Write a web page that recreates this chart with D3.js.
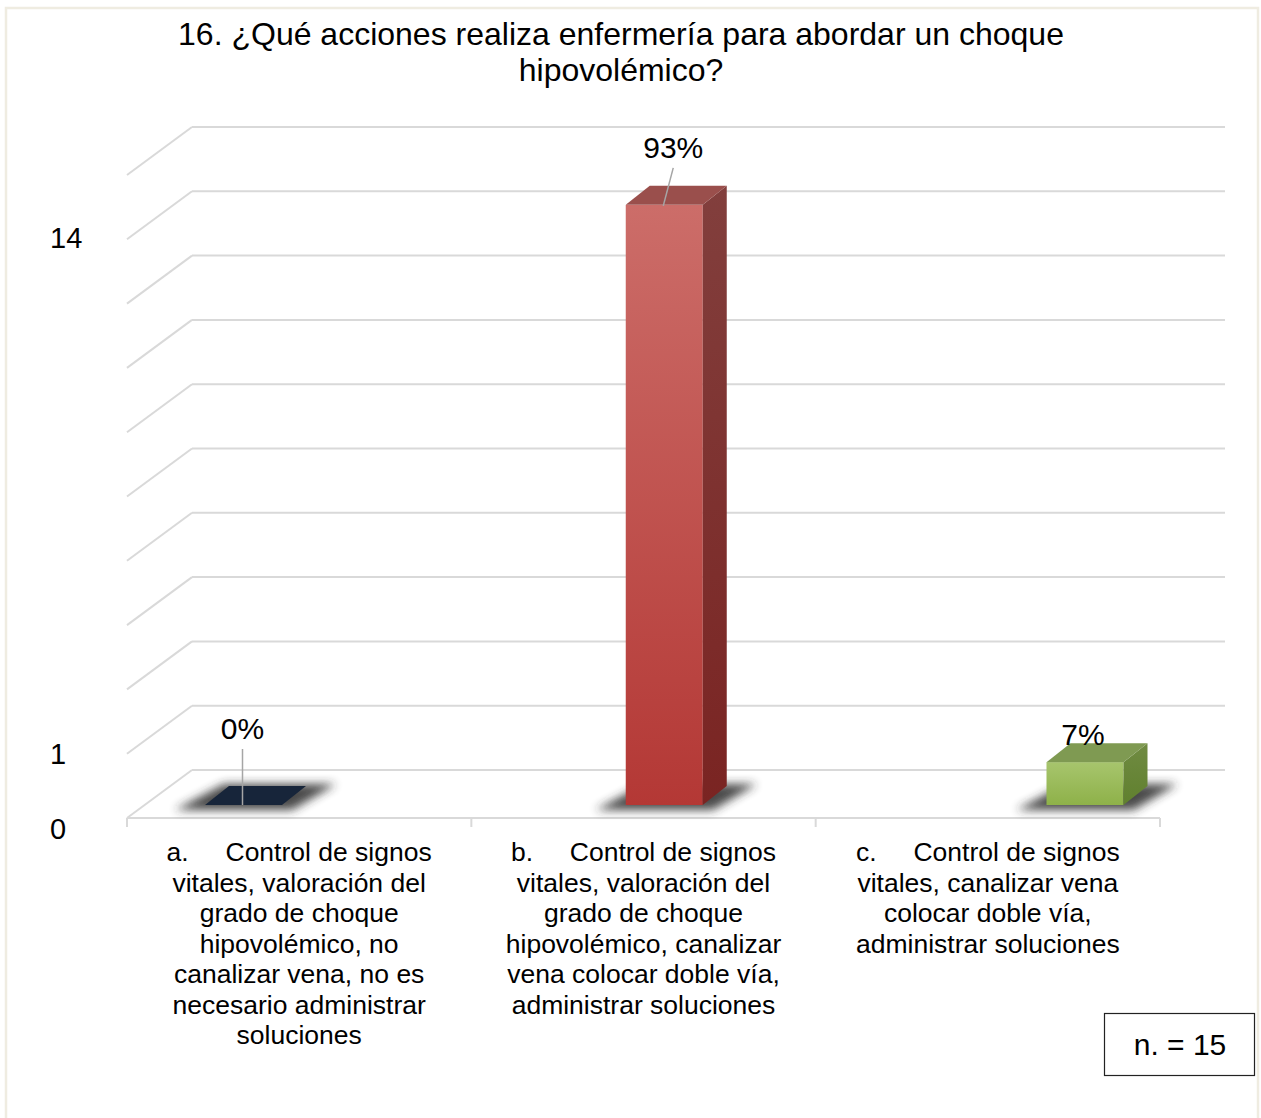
<!DOCTYPE html>
<html>
<head>
<meta charset="utf-8">
<script src="https://cdn.jsdelivr.net/npm/d3@7"></script>
<style>
  html, body { margin: 0; padding: 0; background: #ffffff; }
  svg { display: block; font-family: "Liberation Sans", Arial, sans-serif; }
</style>
</head>
<body>
<svg id="chart" width="1261" height="1118"></svg>
<script>
// ---- data ----
const categories = ["a", "b", "c"];
const categoryLabels = [
  ["a.\u00A0\u00A0\u00A0\u00A0\u00A0Control de signos", "vitales, valoración del", "grado de choque", "hipovolémico, no", "canalizar vena, no es", "necesario administrar", "soluciones"],
  ["b.\u00A0\u00A0\u00A0\u00A0\u00A0Control de signos", "vitales, valoración del", "grado de choque", "hipovolémico, canalizar", "vena colocar doble vía,", "administrar soluciones"],
  ["c.\u00A0\u00A0\u00A0\u00A0\u00A0Control de signos", "vitales, canalizar vena", "colocar doble vía,", "administrar soluciones"]
];
const counts = [0, 14, 1];
const percentLabels = ["0%", "93%", "7%"];
const tickValues = [0, 1, 14];
const tickLabels = ["0", "1", "14"];
const titleLines = ["16. ¿Qué acciones realiza enfermería para abordar un choque", "hipovolémico?"];
const sampleNote = "n. = 15";
const yMax = 15;
const gridStep = 1.5;

// ---- styles ----
const palettes = [
  { front: ["#1f3048", "#17253a"], side: ["#121d2e", "#0e1725"], top: "#17253a" },
  { front: ["#cc6d69", "#b43835"], side: ["#823f3d", "#7a2422"], top: "#9a4f4c" },
  { front: ["#a7c56d", "#8eb149"], side: ["#708b42", "#60802e"], top: "#7f9a52" }
];

const svg = d3.select("#chart");
const defs = svg.append("defs");

// outer frame
svg.append("rect").attr("x", 6).attr("y", 8).attr("width", 1252).attr("height", 1120)
  .attr("fill", "#ffffff").attr("stroke", "#efece1").attr("stroke-width", 2.5);

// projection geometry
const floorLeft = 127, floorRight = 1160;
const depthDx = 65, depthDy = -48;
const y = d3.scaleLinear().domain([0, yMax]).range([818, 175]);
const xBand = d3.scaleBand().domain(categories).range([floorLeft, floorRight]);
const xBar = d3.scalePoint().domain(categories).range([243.5, 1085]);
const barW = 77, barDepthX = 24, barDepthY = -19, barFrontShift = -13;
const yBar = v => y(v) + barFrontShift;
const tickY = d3.scaleLinear().domain(tickValues).range([829, 754, 238]);

// grid
const gridVals = d3.range(0, yMax + 0.001, gridStep);
const grid = svg.append("g").attr("stroke", "#d9d9d9").attr("stroke-width", 2).attr("fill", "none");
gridVals.forEach(v => {
  grid.append("line").attr("x1", floorLeft + depthDx).attr("x2", floorRight + depthDx)
    .attr("y1", y(v) + depthDy).attr("y2", y(v) + depthDy);
  grid.append("line").attr("x1", floorLeft).attr("x2", floorLeft + depthDx)
    .attr("y1", y(v)).attr("y2", y(v) + depthDy);
});
// floor front edge & ticks
grid.append("line").attr("x1", floorLeft).attr("x2", floorRight).attr("y1", y(0)).attr("y2", y(0));
const tickXs = categories.map(c => xBand(c)).concat([floorRight]);
tickXs.forEach(tx => {
  grid.append("line").attr("x1", tx).attr("x2", tx).attr("y1", y(0)).attr("y2", y(0) + 9);
});

// shadow filter
const f = defs.append("filter").attr("id", "shadowBlur").attr("x", "-50%").attr("y", "-100%")
  .attr("width", "200%").attr("height", "300%");
f.append("feGaussianBlur").attr("stdDeviation", 5);

// gradients
palettes.forEach((p, i) => {
  const gf = defs.append("linearGradient").attr("id", "front" + i).attr("x1", 0).attr("y1", 0).attr("x2", 0).attr("y2", 1);
  gf.append("stop").attr("offset", "0%").attr("stop-color", p.front[0]);
  gf.append("stop").attr("offset", "100%").attr("stop-color", p.front[1]);
  const gs = defs.append("linearGradient").attr("id", "side" + i).attr("x1", 0).attr("y1", 0).attr("x2", 0).attr("y2", 1);
  gs.append("stop").attr("offset", "0%").attr("stop-color", p.side[0]);
  gs.append("stop").attr("offset", "100%").attr("stop-color", p.side[1]);
});

const bars = svg.append("g");
categories.forEach((c, i) => {
  const v = counts[i];
  const cx = xBar(c);
  const x0 = cx - barW / 2, x1 = cx + barW / 2;
  const yb = yBar(0), yt = yBar(v);
  const g = bars.append("g");
  // shadow on floor
  const sp = [[x0 - 30, yb + 5], [x1 + 10, yb + 5], [x1 + barDepthX + 30, yb + barDepthY - 2], [x0 + barDepthX - 5, yb + barDepthY - 2]];
  g.append("path").attr("d", "M" + sp.map(p => p.join(",")).join("L") + "Z")
    .attr("fill", "#2a2a2a").attr("opacity", 0.85).attr("filter", "url(#shadowBlur)");
  if (v > 0) {
    g.append("rect").attr("x", x0).attr("y", yt).attr("width", barW).attr("height", yb - yt)
      .attr("fill", `url(#front${i})`);
    const side = [[x1, yt], [x1 + barDepthX, yt + barDepthY], [x1 + barDepthX, yb + barDepthY], [x1, yb]];
    g.append("path").attr("d", "M" + side.map(p => p.join(",")).join("L") + "Z").attr("fill", `url(#side${i})`);
  }
  const top = [[x0, yt], [x1, yt], [x1 + barDepthX, yt + barDepthY], [x0 + barDepthX, yt + barDepthY]];
  g.append("path").attr("d", "M" + top.map(p => p.join(",")).join("L") + "Z").attr("fill", palettes[i].top);
});

// data labels
const labelFont = 30;
categories.forEach((c, i) => {
  const v = counts[i];
  const cx = xBar(c);
  const yt = yBar(v);
  let lx, ly;
  if (i === 0) {
    lx = cx - 1; ly = yt - 66;
    svg.append("line").attr("x1", lx).attr("x2", lx).attr("y1", ly + 10).attr("y2", yt)
      .attr("stroke", "#a6a6a6").attr("stroke-width", 1.5);
  } else if (i === 1) {
    lx = cx + 9; ly = yt - 47;
    svg.append("line").attr("x1", lx).attr("x2", cx - 1).attr("y1", ly + 10).attr("y2", yt + 1)
      .attr("stroke", "#a6a6a6").attr("stroke-width", 1.5);
  } else {
    lx = cx - 2; ly = yt - 17;
  }
  svg.append("text").attr("x", lx).attr("y", ly).attr("text-anchor", "middle")
    .attr("font-size", labelFont).attr("fill", "#000").text(percentLabels[i]);
});

// y tick labels
tickValues.forEach((v, i) => {
  svg.append("text").attr("x", 50).attr("y", tickY(v)).attr("dy", "0.35em")
    .attr("font-size", 29).attr("fill", "#000").text(tickLabels[i]);
});

// category labels
categoryLabels.forEach((lines, i) => {
  const t = svg.append("text").attr("text-anchor", "middle").attr("font-size", 26.5).attr("fill", "#000");
  lines.forEach((ln, j) => {
    t.append("tspan").attr("x", xBand(categories[i]) + xBand.bandwidth() / 2)
      .attr("y", 861 + j * 30.5).text(ln);
  });
});

// title
const tt = svg.append("text").attr("text-anchor", "middle").attr("font-size", 32).attr("fill", "#000");
titleLines.forEach((ln, j) => {
  tt.append("tspan").attr("x", 621).attr("y", 45 + j * 36).text(ln);
});

// n box
svg.append("rect").attr("x", 1104.5).attr("y", 1013.5).attr("width", 150).attr("height", 62)
  .attr("fill", "#fff").attr("stroke", "#222").attr("stroke-width", 1.2);
svg.append("text").attr("x", 1180).attr("y", 1044).attr("dy", "0.35em").attr("text-anchor", "middle")
  .attr("font-size", 30).attr("fill", "#000").text(sampleNote);
</script>
</body>
</html>
